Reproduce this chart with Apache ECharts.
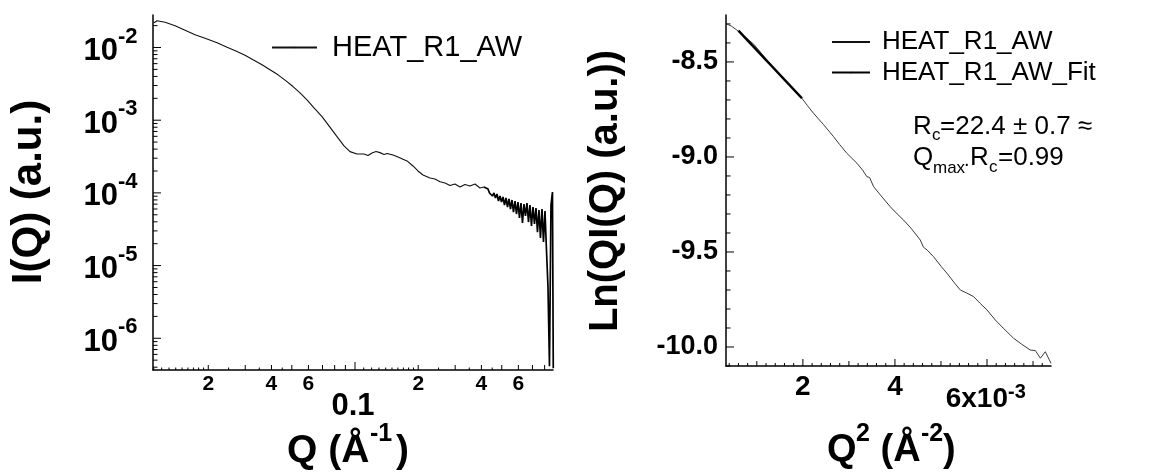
<!DOCTYPE html>
<html>
<head>
<meta charset="utf-8">
<script src="https://cdn.jsdelivr.net/npm/echarts@6/dist/echarts.min.js"></script>
<style>
html, body { margin: 0; padding: 0; background: #fff; }
#chart { width: 1155px; height: 474px; }
</style>
</head>
<body>
<div id="chart"></div>
<script>
// left panel: I(Q) against Q, log-log
var qValues = [
    0.01104, 0.01141, 0.01245, 0.01390, 0.01551, 0.01730, 0.01931, 0.02203, 0.02458, 0.02742,
    0.02994, 0.03268, 0.03606, 0.03937, 0.04298, 0.04692, 0.05067, 0.05470, 0.05906, 0.06377,
    0.06965, 0.07519, 0.08209, 0.08863, 0.09467, 0.1022, 0.1104, 0.1153, 0.1205, 0.1259,
    0.1315, 0.1374, 0.1420, 0.1517, 0.1603, 0.1693, 0.1769, 0.1889, 0.1995, 0.2108,
    0.2276, 0.2404, 0.2540, 0.2683, 0.2835, 0.2993, 0.3162, 0.3341, 0.3529, 0.3727,
    0.3937, 0.4113,
    0.4299, 0.4370, 0.4443, 0.4516, 0.4591, 0.4667, 0.4745, 0.4823, 0.4903, 0.4985,
    0.5067, 0.5151, 0.5237, 0.5324, 0.5412, 0.5502, 0.5593, 0.5686, 0.5780, 0.5876,
    0.5973, 0.6072, 0.6173, 0.6275, 0.6379, 0.6485, 0.6593, 0.6702, 0.6813, 0.6926,
    0.7041, 0.7158, 0.7276, 0.7397, 0.7520, 0.7644, 0.7771, 0.7900, 0.8031, 0.8164,
    0.8299, 0.8437, 0.8577, 0.8719, 0.8796
];
var iValues = [
    0.02188, 0.02332, 0.02223, 0.01990, 0.01725, 0.01496, 0.01339, 0.01161, 0.01006, 0.008809,
    0.007809, 0.006770, 0.005778, 0.004929, 0.004207, 0.003477, 0.002903, 0.002377, 0.001904, 0.001477,
    0.001121, 0.0008345, 0.0005942, 0.0004426, 0.0003694, 0.0003435, 0.0003435, 0.0003274, 0.0003546, 0.0003718,
    0.0003580, 0.0003380, 0.0003490, 0.0003327, 0.0003123, 0.0002903, 0.0002750, 0.0002347, 0.0002003, 0.0001764,
    0.0001604, 0.0001554, 0.0001427, 0.0001369, 0.0001264, 0.0001326, 0.0001206, 0.0001305, 0.0001245, 0.0001326,
    0.0001168, 0.0001206,
    1.132e-4, 9.97e-5, 1.062e-4, 9.06e-5, 9.97e-5, 8.51e-5, 9.66e-5, 7.73e-5, 9.06e-5, 7.49e-5,
    8.78e-5, 6.81e-5, 8.51e-5, 6.39e-5, 8.24e-5, 6.00e-5, 7.98e-5, 5.45e-5, 7.73e-5, 5.12e-5,
    7.49e-5, 4.51e-5, 7.26e-5, 3.85e-5, 7.03e-5, 4.81e-5, 7.26e-5, 3.97e-5, 6.81e-5, 3.50e-5,
    6.39e-5, 3.73e-5, 6.19e-5, 2.89e-5, 5.81e-5, 2.39e-5, 6.00e-5, 2.11e-5, 5.63e-5, 1.635e-5,
    5.22e-6, 4.13e-7, 6.81e-5, 1.029e-4, 3.88e-7
];
// first index of the noisy high-Q tail
var tailStart = 51;

// right panel: Guinier plot, Ln(QI) against Q^2
var q2Values = [
    0.000348, 0.000450, 0.000565, 0.000750, 0.000926, 0.001100, 0.001289, 0.001450, 0.001637, 0.001800,
    0.001978, 0.002100, 0.002230, 0.002450, 0.002665, 0.002800, 0.002957, 0.003174, 0.003300, 0.003391,
    0.003450, 0.003535, 0.003700, 0.003898, 0.004050, 0.004187, 0.004350, 0.004550, 0.004620, 0.004660,
    0.004696, 0.004839, 0.005000, 0.005130, 0.005300, 0.005420, 0.005550, 0.005709, 0.005850, 0.006000,
    0.006180, 0.006350, 0.006578, 0.006750, 0.006941, 0.007050, 0.007159, 0.007267, 0.007391
];
var lnValues = [
    -8.300, -8.312, -8.332, -8.370, -8.405, -8.455, -8.511, -8.555, -8.605, -8.648,
    -8.691, -8.730, -8.770, -8.830, -8.893, -8.935, -8.981, -9.033, -9.070, -9.104,
    -9.108, -9.156, -9.205, -9.262, -9.300, -9.332, -9.375, -9.437, -9.475, -9.468,
    -9.489, -9.525, -9.575, -9.612, -9.665, -9.700, -9.715, -9.735, -9.770, -9.805,
    -9.858, -9.900, -9.954, -9.985, -10.016, -10.019, -10.059, -10.025, -10.086
];
var fitQ2 = [0.00060, 0.00198];
var fitLn = [-8.335, -8.691];

var leftXRange = [0.01091, 0.877];
var leftYRange = [3.66e-7, 2.8e-2];
var rightXRange = [0.00033, 0.00739];
var rightYRange = [-10.1, -8.253];

// tick labels
var leftYExp = [-2, -3, -4, -5, -6];
var leftXLabelVals = [0.02, 0.04, 0.06, 0.2, 0.4, 0.6];
var leftXLabelText = ['2', '4', '6', '2', '4', '6'];
var leftXDecade = [0.1];
var rightYMajor = [-8.5, -9.0, -9.5, -10.0];
var rightYText = ['-8.5', '-9.0', '-9.5', '-10.0'];
var rightXMajor = [0.002, 0.004, 0.006];
var rightXText = ['2', '4', '6x10'];

var FONT = '"Liberation Sans", Arial, Helvetica, sans-serif';

function zip(a, b) {
    return a.map(function (v, i) { return [v, b[i]]; });
}

// tick items: [x, y, dir(0 = on x axis, 1 = on y axis), length]
var leftTicks = [];
leftYExp.forEach(function (e) { leftTicks.push([leftXRange[0], Math.pow(10, e), 1, 8]); });
for (var e = -7; e <= -2; e++) {
    for (var k = 2; k <= 9; k++) {
        var v = k * Math.pow(10, e);
        if (v > leftYRange[0] && v < leftYRange[1]) leftTicks.push([leftXRange[0], v, 1, 4.5]);
    }
}
leftXDecade.forEach(function (d) { leftTicks.push([d, leftYRange[0], 0, 8]); });
for (var k = 2; k <= 9; k++) {
    leftTicks.push([k * 0.01, leftYRange[0], 0, 5]);
    if (k * 0.1 < leftXRange[1]) leftTicks.push([k * 0.1, leftYRange[0], 0, 5]);
}
for (var k = 11; k <= 19; k++) {
    leftTicks.push([k * 0.001, leftYRange[0], 0, 2.5]);
    leftTicks.push([k * 0.01, leftYRange[0], 0, 2.5]);
}
[2.5, 3.5, 4.5].forEach(function (m) {
    leftTicks.push([m * 0.01, leftYRange[0], 0, 2.5]);
    leftTicks.push([m * 0.1, leftYRange[0], 0, 2.5]);
});

var rightTicks = [];
rightYMajor.forEach(function (t) { rightTicks.push([rightXRange[0], t, 1, 8]); });
for (var t = -101; t <= -83; t++) {
    if (t % 5 !== 0) rightTicks.push([rightXRange[0], t / 10, 1, 4.5]);
}
rightXMajor.forEach(function (t) { rightTicks.push([t, rightYRange[0], 0, 7]); });
for (var t = 2; t <= 36; t++) {
    if (t % 10 === 0) continue;
    rightTicks.push([t * 0.0002, rightYRange[0], 0, t % 5 === 0 ? 5 : 3]);
}

function tickSeries(axisIdx, ticks) {
    return {
        type: 'custom', xAxisIndex: axisIdx, yAxisIndex: axisIdx, silent: true, clip: false,
        data: ticks,
        renderItem: function (params, api) {
            var p = api.coord([api.value(0), api.value(1)]);
            var len = api.value(3);
            var shape = api.value(2) === 0
                ? { x1: p[0], y1: p[1], x2: p[0], y2: p[1] - len }
                : { x1: p[0], y1: p[1], x2: p[0] + len, y2: p[1] };
            return { type: 'line', shape: shape, style: { stroke: '#000', lineWidth: 1 } };
        }
    };
}

function label(text, x, y, size, bold, align) {
    return {
        type: 'text', x: x, y: y, silent: true,
        style: {
            text: text, font: (bold ? 'bold ' : '') + size + 'px ' + FONT, fill: '#000',
            align: align, textAlign: align, verticalAlign: 'middle', textVerticalAlign: 'middle'
        }
    };
}

var leftYLabelSeries = {
    type: 'custom', xAxisIndex: 0, yAxisIndex: 0, silent: true, clip: false,
    data: leftYExp.map(function (e) { return [leftXRange[0], Math.pow(10, e)]; }),
    renderItem: function (params, api) {
        var p = api.coord([api.value(0), api.value(1)]);
        return {
            type: 'group', children: [
                label('10', p[0] - 35, p[1] + 4, 31, true, 'right'),
                label(String(leftYExp[params.dataIndex]), p[0] - 35, p[1] - 11, 22, true, 'left')
            ]
        };
    }
};

var leftXLabelSeries = {
    type: 'custom', xAxisIndex: 0, yAxisIndex: 0, silent: true, clip: false,
    data: leftXLabelVals.map(function (v) { return [v, leftYRange[0]]; }),
    renderItem: function (params, api) {
        var p = api.coord([api.value(0), api.value(1)]);
        return label(leftXLabelText[params.dataIndex], p[0], p[1] + 14.5, 21, true, 'center');
    }
};

var leftXDecadeSeries = {
    type: 'custom', xAxisIndex: 0, yAxisIndex: 0, silent: true, clip: false,
    data: leftXDecade.map(function (v) { return [v, leftYRange[0]]; }),
    renderItem: function (params, api) {
        var p = api.coord([api.value(0), api.value(1)]);
        return label('0.1', p[0] - 2, p[1] + 36.5, 31, true, 'center');
    }
};

var rightYLabelSeries = {
    type: 'custom', xAxisIndex: 1, yAxisIndex: 1, silent: true, clip: false,
    data: rightYMajor.map(function (v) { return [rightXRange[0], v]; }),
    renderItem: function (params, api) {
        var p = api.coord([api.value(0), api.value(1)]);
        return label(rightYText[params.dataIndex], p[0] - 8, p[1], 27, true, 'right');
    }
};

var rightXLabelSeries = {
    type: 'custom', xAxisIndex: 1, yAxisIndex: 1, silent: true, clip: false,
    data: rightXMajor.map(function (v) { return [v, rightYRange[0]]; }),
    renderItem: function (params, api) {
        var p = api.coord([api.value(0), api.value(1)]);
        var i = params.dataIndex;
        if (i < rightXMajor.length - 1) {
            return label(rightXText[i], p[0], p[1] + 21, 28, true, 'center');
        }
        return {
            type: 'group', children: [
                label(rightXText[i], p[0] + 21, p[1] + 33, 28, true, 'right'),
                label('-3', p[0] + 21, p[1] + 26, 20, true, 'left')
            ]
        };
    }
};

var chart = echarts.init(document.getElementById('chart'));

var axisLine = { show: true, onZero: false, lineStyle: { color: '#000', width: 1.5 } };
var hidden = {
    axisTick: { show: false }, axisLabel: { show: false }, splitLine: { show: false }
};

var option = {
    animation: false,
    backgroundColor: '#fff',
    grid: [
        { left: 153, top: 15, width: 400, height: 355 },
        { left: 726, top: 15, width: 325, height: 351 }
    ],
    xAxis: [
        Object.assign({ type: 'log', gridIndex: 0, min: leftXRange[0], max: leftXRange[1], axisLine: axisLine }, hidden),
        Object.assign({ type: 'value', gridIndex: 1, min: rightXRange[0], max: rightXRange[1], axisLine: axisLine }, hidden)
    ],
    yAxis: [
        Object.assign({ type: 'log', gridIndex: 0, min: leftYRange[0], max: leftYRange[1], axisLine: axisLine }, hidden),
        Object.assign({ type: 'value', gridIndex: 1, min: rightYRange[0], max: rightYRange[1], axisLine: axisLine }, hidden)
    ],
    legend: [
        {
            left: 271, top: 33, itemWidth: 45, itemHeight: 2, padding: 0,
            data: ['HEAT_R1_AW'],
            textStyle: { fontSize: 29, fontFamily: FONT, color: '#000', padding: [0, 0, 0, 10] }
        },
        {
            left: 831, top: 29, orient: 'vertical', itemWidth: 38, itemHeight: 2, itemGap: 4.6, padding: 0,
            data: ['HEAT_R1_AW', 'HEAT_R1_AW_Fit'],
            textStyle: { fontSize: 26, fontFamily: FONT, color: '#000', padding: [0, 0, 0, 7] }
        }
    ],
    series: [
        {
            name: 'HEAT_R1_AW', type: 'line', xAxisIndex: 0, yAxisIndex: 0,
            data: zip(qValues, iValues).slice(0, tailStart + 1), symbol: 'none',
            lineStyle: { color: '#111', width: 1.1 }, itemStyle: { color: '#111' }
        },
        {
            name: 'HEAT_R1_AW', type: 'line', xAxisIndex: 0, yAxisIndex: 0,
            data: zip(qValues, iValues).slice(tailStart), symbol: 'none',
            lineStyle: { color: '#000', width: 1.7 }, itemStyle: { color: '#000' }
        },
        {
            name: 'HEAT_R1_AW', type: 'line', xAxisIndex: 1, yAxisIndex: 1,
            data: zip(q2Values, lnValues), symbol: 'none',
            lineStyle: { color: '#3a3a3a', width: 1 }, itemStyle: { color: '#3a3a3a' }
        },
        {
            name: 'HEAT_R1_AW_Fit', type: 'line', xAxisIndex: 1, yAxisIndex: 1,
            data: zip(fitQ2, fitLn), symbol: 'none',
            lineStyle: { color: '#000', width: 2.5 }, itemStyle: { color: '#000' }
        },
        tickSeries(0, leftTicks),
        tickSeries(1, rightTicks),
        leftYLabelSeries, leftXLabelSeries, leftXDecadeSeries,
        rightYLabelSeries, rightXLabelSeries
    ],
    graphic: [
        // axis titles
        Object.assign(label('I(Q) (a.u.)', 29, 192, 42, true, 'center'), { rotation: Math.PI / 2 }),
        Object.assign(label('Ln(QI(Q) (a.u.))', 606, 191, 40, true, 'center'), { rotation: Math.PI / 2 }),
        label('Q (Å', 287, 451, 39, true, 'left'),
        label('-1', 370, 434, 25, true, 'left'),
        label(')', 396, 451, 39, true, 'left'),
        label('Q', 827, 451, 38, true, 'left'),
        label('2', 856, 434, 25, true, 'left'),
        label(' (Å', 870, 451, 38, true, 'left'),
        label('-2', 921, 434, 25, true, 'left'),
        label(')', 943, 451, 38, true, 'left'),
        // fit annotation
        label('R', 913, 127, 26, false, 'left'),
        label('c', 932, 135, 17, false, 'left'),
        label('=22.4 ± 0.7 ≈', 940, 127, 26, false, 'left'),
        label('Q', 913, 158, 26, false, 'left'),
        label('max', 933, 168, 17, false, 'left'),
        label('.', 964, 160, 20, false, 'left'),
        label('R', 970, 158, 26, false, 'left'),
        label('c', 989, 167, 17, false, 'left'),
        label('=0.99', 998, 158, 26, false, 'left')
    ]
};

chart.setOption(option);
</script>
</body>
</html>
